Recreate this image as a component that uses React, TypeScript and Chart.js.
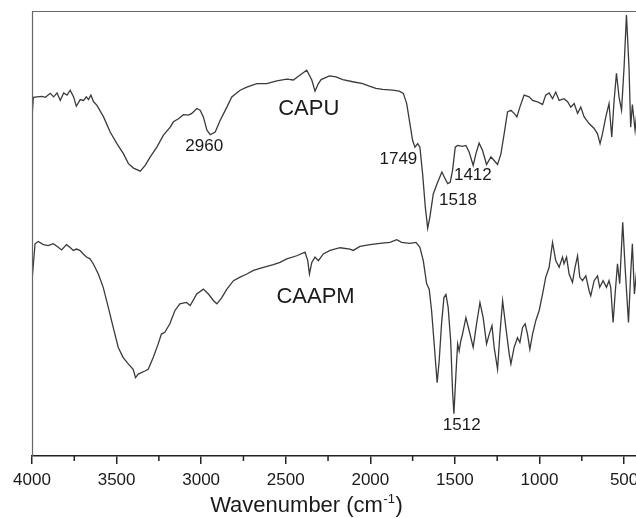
import React, { useEffect, useRef } from "react";
import { Chart, registerables } from "chart.js";

Chart.register(...registerables);

// CAPU spectrum (wavenumber cm-1, transmittance a.u.)
const capuWavenumbers = [
  4000, 3992, 3970, 3941, 3921, 3892, 3872, 3852, 3833, 3813, 3793, 3774, 3754, 3738, 3715, 3695,
  3679, 3666, 3652, 3636, 3616, 3577, 3538, 3498, 3459, 3430, 3400, 3360, 3331, 3301, 3262, 3223,
  3183, 3164, 3134, 3105, 3075, 3055, 3026, 3006, 2987, 2966, 2946, 2917, 2888, 2848, 2819, 2770,
  2730, 2671, 2612, 2553, 2494, 2455, 2415, 2376, 2346, 2327, 2307, 2291, 2242, 2203, 2163, 2104,
  2045, 2006, 1967, 1927, 1868, 1829, 1805, 1785, 1766, 1750, 1736, 1720, 1707, 1691, 1675, 1661,
  1648, 1628, 1602, 1577, 1563, 1543, 1528, 1514, 1498, 1484, 1455, 1435, 1416, 1392, 1376, 1357,
  1337, 1313, 1287, 1268, 1248, 1228, 1209, 1189, 1169, 1150, 1134, 1116, 1091, 1061, 1041, 1012,
  982, 963, 943, 923, 904, 884, 855, 834, 815, 795, 775, 756, 736, 707, 677, 657,
  642, 628, 608, 589, 573, 559, 545, 530, 515, 500, 486, 471, 461, 451, 435, 420, 405,
];
const capuValues = [
  76.0, 80.6, 80.7, 80.8, 80.6, 81.5, 80.7, 81.6, 79.9, 81.6, 81.1, 82.2, 80.7, 78.6, 80.1, 79.9,
  80.7, 80.1, 81.1, 79.6, 78.8, 76.2, 72.8, 70.2, 67.9, 65.7, 64.7, 64.0, 65.3, 67.2, 69.4, 72.1,
  73.9, 75.1, 75.8, 76.7, 76.6, 77.0, 78.1, 77.7, 76.2, 73.2, 72.2, 72.8, 75.4, 78.4, 80.7, 82.2,
  82.9, 83.7, 83.7, 84.3, 84.7, 84.5, 85.6, 86.7, 84.5, 82.0, 83.7, 84.6, 85.4, 85.2, 84.6, 84.1,
  83.7, 83.1, 82.6, 82.4, 82.2, 82.0, 81.5, 79.2, 74.7, 70.9, 69.4, 70.2, 69.4, 63.4, 55.9, 51.2,
  53.7, 58.9, 61.5, 63.8, 62.7, 61.2, 61.5, 64.2, 69.4, 69.8, 69.6, 69.8, 68.3, 65.3, 67.9, 70.3,
  68.7, 65.5, 67.2, 66.4, 65.5, 67.9, 72.4, 77.3, 77.7, 77.0, 76.2, 78.4, 81.1, 80.7, 79.9, 79.6,
  79.0, 81.1, 81.6, 80.3, 81.8, 79.9, 80.3, 79.6, 78.4, 79.2, 77.0, 78.4, 76.2, 74.7, 73.6, 72.4,
  70.2, 72.4, 76.2, 79.2, 71.7, 79.9, 86.0, 80.7, 77.7, 87.4, 99.1, 87.4, 73.9, 79.0, 73.2, 79.0, 75.0,
];

// CAAPM spectrum
const caapmWavenumbers = [
  4000, 3982, 3963, 3933, 3904, 3874, 3845, 3825, 3796, 3776, 3756, 3737, 3717, 3697, 3678, 3657,
  3638, 3608, 3579, 3549, 3520, 3490, 3461, 3431, 3402, 3388, 3372, 3333, 3313, 3284, 3254, 3235,
  3215, 3185, 3155, 3126, 3087, 3065, 3026, 2987, 2957, 2927, 2907, 2878, 2848, 2809, 2770, 2730,
  2691, 2632, 2573, 2534, 2494, 2435, 2386, 2370, 2360, 2346, 2327, 2307, 2278, 2238, 2179, 2120,
  2101, 2061, 2002, 1943, 1884, 1844, 1815, 1766, 1730, 1707, 1687, 1667, 1652, 1638, 1624, 1612,
  1605, 1593, 1579, 1565, 1553, 1540, 1525, 1514, 1506, 1494, 1484, 1475, 1465, 1455, 1435, 1416,
  1392, 1372, 1352, 1333, 1313, 1297, 1281, 1268, 1248, 1234, 1218, 1199, 1179, 1169, 1150, 1130,
  1116, 1100, 1085, 1071, 1057, 1041, 1022, 1002, 982, 963, 943, 923, 904, 884, 864, 855,
  840, 825, 805, 790, 775, 762, 746, 726, 707, 697, 677, 657, 644, 624, 604, 589,
  579, 565, 553, 539, 526, 508, 494, 474, 461, 451, 439, 420, 405,
];
const caapmValues = [
  39.4, 47.7, 48.2, 47.5, 47.3, 47.7, 46.9, 46.3, 47.5, 46.9, 46.2, 46.5, 46.2, 45.4, 44.7, 44.3,
  43.2, 40.9, 37.9, 33.4, 28.9, 24.4, 22.1, 20.7, 19.5, 17.6, 18.4, 19.1, 19.5, 22.1, 25.2, 27.4,
  27.8, 29.7, 32.7, 34.2, 34.5, 33.8, 36.4, 37.5, 36.4, 34.9, 34.2, 35.6, 37.5, 39.4, 40.2, 40.9,
  41.7, 42.4, 43.0, 43.5, 44.3, 45.0, 45.8, 43.9, 40.9, 43.5, 44.7, 43.9, 45.4, 46.2, 46.8, 46.5,
  46.2, 47.1, 47.5, 47.8, 48.0, 48.6, 48.0, 47.8, 48.0, 46.9, 43.9, 38.7, 37.5, 32.7, 25.9, 19.9,
  16.5, 21.4, 29.7, 35.6, 36.3, 33.4, 25.9, 14.6, 9.5, 18.4, 25.2, 23.6, 25.9, 27.4, 31.1, 28.2,
  24.4, 29.7, 34.5, 31.1, 25.2, 27.4, 29.3, 24.4, 19.5, 27.4, 34.9, 28.9, 22.9, 20.7, 24.4, 26.6,
  25.5, 28.9, 29.7, 27.4, 24.0, 27.4, 30.4, 32.7, 36.4, 40.2, 42.4, 48.0, 43.9, 42.4, 44.7, 43.2,
  44.7, 40.9, 39.0, 42.4, 45.0, 40.2, 39.4, 40.5, 37.2, 36.0, 39.4, 40.5, 37.9, 39.4, 37.9, 39.4,
  37.9, 30.0, 36.4, 43.2, 38.7, 52.5, 42.4, 30.0, 40.9, 47.7, 36.4, 44.0, 38.0,
];

const majorTicks = [4000, 3500, 3000, 2500, 2000, 1500, 1000, 500];
const minorTicks = [3750, 3250, 2750, 2250, 1750, 1250, 750];

const annotationTexts = ["CAPU", "CAAPM", "2960", "1749", "1412", "1518", "1512"];
const annotationWavenumbers = [2364, 2324, 2982, 1834, 1394, 1482, 1460];
const annotationValues = [77.9, 35.7, 69.6, 66.6, 63.0, 57.4, 7.0];
const annotationSizes = [22, 22, 17, 17, 17, 17, 17];

const FONT = 'Arial, "Liberation Sans", Helvetica, sans-serif';

const extrasPlugin = {
  id: "extras",
  afterDraw(chart: any) {
    const { ctx, chartArea: a, scales } = chart;
    const xs = scales.x;
    const ys = scales.y;
    ctx.save();
    // frame (left, top, right)
    ctx.strokeStyle = "#666";
    ctx.lineWidth = 1.2;
    ctx.beginPath();
    ctx.moveTo(a.left + 0.5, a.bottom);
    ctx.lineTo(a.left + 0.5, a.top + 0.5);
    ctx.lineTo(a.right - 0.5, a.top + 0.5);
    ctx.lineTo(a.right - 0.5, a.bottom);
    ctx.stroke();
    // minor ticks
    ctx.strokeStyle = "#222";
    ctx.lineWidth = 1.5;
    ctx.beginPath();
    minorTicks.forEach((v) => {
      const px = xs.getPixelForValue(v);
      ctx.moveTo(px, a.bottom);
      ctx.lineTo(px, a.bottom + 5);
    });
    ctx.stroke();
    // annotations
    ctx.fillStyle = "#1a1a1a";
    ctx.textAlign = "center";
    ctx.textBaseline = "middle";
    annotationTexts.forEach((t, i) => {
      ctx.font = `${annotationSizes[i]}px ${FONT}`;
      ctx.fillText(t, xs.getPixelForValue(annotationWavenumbers[i]), ys.getPixelForValue(annotationValues[i]));
    });
    // axis title with superscript
    const main = "Wavenumber (cm";
    const sup = "-1";
    const close = ")";
    ctx.textAlign = "left";
    ctx.textBaseline = "alphabetic";
    ctx.font = `22px ${FONT}`;
    const w1 = ctx.measureText(main).width;
    const w3 = ctx.measureText(close).width;
    ctx.font = `13px ${FONT}`;
    const w2 = ctx.measureText(sup).width;
    const total = w1 + w2 + w3;
    const cx = 306;
    const base = 512;
    const x0 = cx - total / 2;
    ctx.font = `22px ${FONT}`;
    ctx.fillText(main, x0, base);
    ctx.font = `13px ${FONT}`;
    ctx.fillText(sup, x0 + w1 + 0.5, base - 9);
    ctx.font = `22px ${FONT}`;
    ctx.fillText(close, x0 + w1 + w2 + 1, base);
    ctx.restore();
  },
};

export default function App() {
  const ref = useRef<HTMLCanvasElement | null>(null);

  useEffect(() => {
    if (!ref.current) return;
    const chart = new Chart(ref.current, {
      type: "line",
      data: {
        datasets: [
          {
            label: "CAPU",
            data: capuWavenumbers.map((w, i) => ({ x: w, y: capuValues[i] })),
            borderColor: "#3a3a3a",
            borderWidth: 1.3,
            pointRadius: 0,
            tension: 0,
            fill: false,
          },
          {
            label: "CAAPM",
            data: caapmWavenumbers.map((w, i) => ({ x: w, y: caapmValues[i] })),
            borderColor: "#3a3a3a",
            borderWidth: 1.3,
            pointRadius: 0,
            tension: 0,
            fill: false,
          },
        ],
      },
      options: {
        responsive: false,
        animation: false,
        devicePixelRatio: 1,
        layout: { padding: { left: 32, top: 11, right: 9, bottom: 0 } },
        plugins: { legend: { display: false }, tooltip: { enabled: false }, title: { display: false } },
        scales: {
          x: {
            type: "linear",
            min: 400,
            max: 4000,
            reverse: true,
            afterBuildTicks: (scale: any) => {
              scale.ticks = majorTicks.map((v) => ({ value: v }));
            },
            afterFit: (scale: any) => {
              scale.height = 62;
            },
            grid: {
              display: true,
              drawOnChartArea: false,
              drawTicks: true,
              tickLength: 8,
              color: "#222",
              lineWidth: 1.5,
            },
            border: { display: true, color: "#222", width: 1.5 },
            ticks: {
              autoSkip: false,
              maxRotation: 0,
              padding: 6,
              color: "#1a1a1a",
              font: { family: FONT, size: 17 },
              callback: (v: any) => String(v),
            },
          },
          y: {
            type: "linear",
            min: 0,
            max: 100,
            display: false,
          },
        },
      },
      plugins: [extrasPlugin],
    });
    return () => chart.destroy();
  }, []);

  return (
    <div
      style={{
        position: "fixed",
        left: 0,
        top: 0,
        width: 636,
        height: 518,
        overflow: "hidden",
        background: "#fff",
      }}
    >
      <canvas ref={ref} width={650} height={518} style={{ display: "block" }} />
    </div>
  );
}
